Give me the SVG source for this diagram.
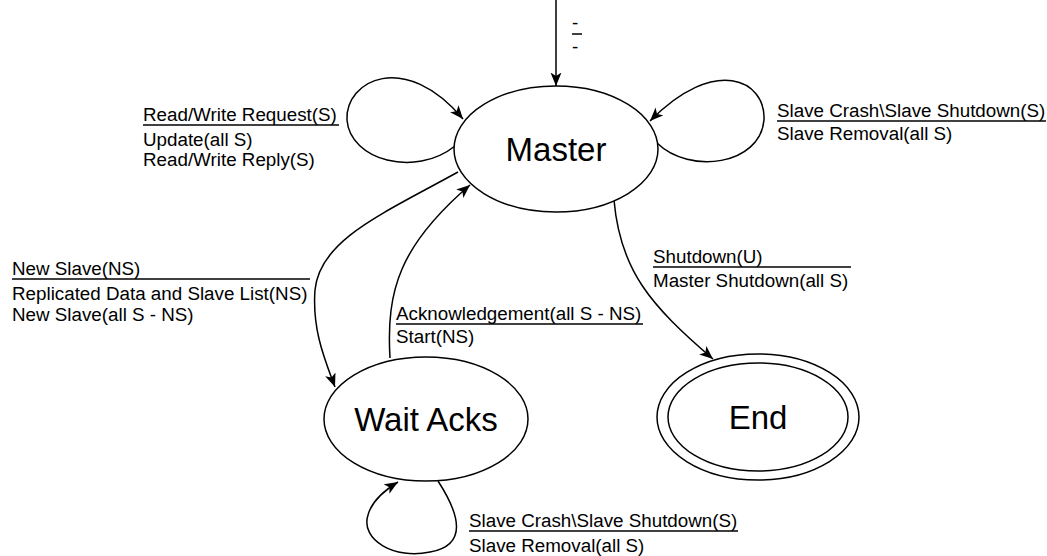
<svg xmlns="http://www.w3.org/2000/svg" width="1047" height="556" viewBox="0 0 1047 556">
  <style>
    .state { fill: #ffffff; stroke: #000000; stroke-width: 1.5; }
    .name { font-family: "Liberation Sans", Arial, sans-serif; font-size: 33px; fill: #000000; text-anchor: middle; }
    .lbl { font-family: "Liberation Sans", Arial, sans-serif; font-size: 18.8px; fill: #000000; }
    .bar { stroke: #000000; stroke-width: 1.5; }
    .edge { fill: none; stroke: #000000; stroke-width: 1.5; marker-end: url(#arrow); }
  </style>
  <defs>
    <marker id="arrow" markerUnits="userSpaceOnUse" markerWidth="15" markerHeight="12" refX="13.5" refY="5.5" orient="auto">
      <path d="M0,0 L13.5,5.5 L0,11 L3.5,5.5 z" fill="#000000"/>
    </marker>
  </defs>

  <rect width="1047" height="556" fill="#ffffff"/>

  <!-- transitions -->
  <g id="connectors">
    <!-- initial -->
    <path class="edge" d="M556,0 L556,86"/>
    <!-- Master self loop (left) -->
    <path class="edge" d="M455,146 C415,178 350,160 347,120 C345,80 405,50 463,119"/>
    <!-- Master self loop (right) -->
    <path class="edge" d="M657,143 C690,175 760,165 764,120 C766,80 715,55 650,121"/>
    <!-- Master to Wait Acks -->
    <path class="edge" d="M458,172 C380,215 320,240 315,290 C312,330 325,360 335,387"/>
    <!-- Wait Acks to Master -->
    <path class="edge" d="M390,358 C386,290 400,245 470,185"/>
    <!-- Master to End -->
    <path class="edge" d="M614,200 C620,270 650,305 713,359"/>
    <!-- Wait Acks self loop -->
    <path class="edge" d="M438,481 C460,515 468,545 430,552 C395,560 360,540 368,515 C372,500 385,490 398,482"/>
  </g>

  <!-- transition labels -->
  <g id="label-initial">
    <text class="lbl" x="572" y="29">-</text>
    <line class="bar" x1="572" y1="34" x2="582" y2="34"/>
    <text class="lbl" x="572" y="53">-</text>
  </g>
  <g id="label-rw">
    <text class="lbl" x="143" y="121">Read/Write Request(S)</text>
    <line class="bar" x1="143" y1="125" x2="339" y2="125"/>
    <text class="lbl" x="143" y="146">Update(all S)</text>
    <text class="lbl" x="143" y="166">Read/Write Reply(S)</text>
  </g>
  <g id="label-crash-master">
    <text class="lbl" x="777" y="117">Slave Crash\Slave Shutdown(S)</text>
    <line class="bar" x1="777" y1="121" x2="1046" y2="121"/>
    <text class="lbl" x="777" y="140">Slave Removal(all S)</text>
  </g>
  <g id="label-newslave">
    <text class="lbl" x="12" y="275">New Slave(NS)</text>
    <line class="bar" x1="12" y1="279" x2="310" y2="279"/>
    <text class="lbl" x="12" y="300">Replicated Data and Slave List(NS)</text>
    <text class="lbl" x="12" y="321">New Slave(all S - NS)</text>
  </g>
  <g id="label-ack">
    <text class="lbl" x="396" y="320">Acknowledgement(all S - NS)</text>
    <line class="bar" x1="396" y1="324" x2="643" y2="324"/>
    <text class="lbl" x="396" y="343">Start(NS)</text>
  </g>
  <g id="label-shutdown">
    <text class="lbl" x="653" y="263">Shutdown(U)</text>
    <line class="bar" x1="653" y1="267" x2="851" y2="267"/>
    <text class="lbl" x="653" y="287">Master Shutdown(all S)</text>
  </g>
  <g id="label-crash-wait">
    <text class="lbl" x="469" y="527">Slave Crash\Slave Shutdown(S)</text>
    <line class="bar" x1="469" y1="531" x2="738" y2="531"/>
    <text class="lbl" x="469" y="552">Slave Removal(all S)</text>
  </g>

  <!-- states -->
  <g id="master">
    <ellipse class="state" cx="556" cy="149" rx="102" ry="63"/>
    <text class="name" x="556" y="161">Master</text>
  </g>
  <g id="wait-acks">
    <ellipse class="state" cx="426" cy="419" rx="102" ry="62"/>
    <text class="name" x="426" y="431">Wait Acks</text>
  </g>
  <g id="end">
    <ellipse class="state" cx="758" cy="417" rx="101" ry="63"/>
    <ellipse class="state" cx="758" cy="417" rx="90" ry="54"/>
    <text class="name" x="758" y="429">End</text>
  </g>
</svg>
